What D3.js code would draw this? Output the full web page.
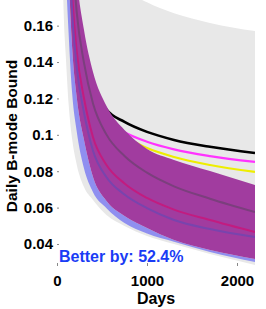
<!DOCTYPE html>
<html>
<head>
<meta charset="utf-8">
<script src="https://d3js.org/d3.v7.min.js"></script>
<style>
  html, body { margin: 0; padding: 0; background: #fff; overflow: hidden; }
  svg { display: block; }
  text { font-family: "Liberation Sans", Arial, sans-serif; font-weight: bold; }
</style>
</head>
<body>
<svg width="266" height="309"></svg>
<script>
// days sampled along every curve
var days = [50, 75, 100, 130, 170, 220, 300, 400, 550, 750, 1000, 1300, 1700, 2200];

// bands
var grayLo = [0.220, 0.1658, 0.1411, 0.1164, 0.0971, 0.0834, 0.0713, 0.0642, 0.0559, 0.0499, 0.0444, 0.0400, 0.0345, 0.0285];
var grayHi = [0.342, 0.302, 0.278, 0.259, 0.242, 0.228, 0.213, 0.201, 0.190, 0.180, 0.1728, 0.1668, 0.1615, 0.1570];
var blueLo = [0.330, 0.238, 0.189, 0.1548, 0.1219, 0.1015, 0.0815, 0.0685, 0.0597, 0.0515, 0.0457, 0.0412, 0.0356, 0.0301];
var purpLo = [0.406, 0.293, 0.233, 0.189, 0.1466, 0.1202, 0.0971, 0.0768, 0.0636, 0.0554, 0.0488, 0.0422, 0.0367, 0.0318];
var purpHi = [0.527, 0.397, 0.325, 0.271, 0.224, 0.187, 0.1576, 0.1345, 0.1158, 0.1026, 0.0922, 0.0862, 0.0801, 0.0724];

// lines
var blackLine  = [0.45, 0.34, 0.28, 0.235, 0.195, 0.165, 0.142, 0.127, 0.1139, 0.1071, 0.1016, 0.0972, 0.0934, 0.0900];
var magentaLine = [0.43, 0.32, 0.26, 0.215, 0.175, 0.140, 0.1242, 0.1159, 0.108, 0.1014, 0.0962, 0.0920, 0.0883, 0.0851];
var yellowLine = [0.42, 0.31, 0.25, 0.205, 0.16, 0.1381, 0.121, 0.112, 0.104, 0.0989, 0.0927, 0.0878, 0.0834, 0.0796];
var darkLine   = [0.491, 0.366, 0.297, 0.246, 0.2008, 0.1670, 0.1395, 0.1172, 0.1001, 0.0884, 0.0792, 0.0717, 0.0649, 0.0576];
var redLine    = [0.452, 0.3325, 0.268, 0.2202, 0.1760, 0.1456, 0.1201, 0.0987, 0.0834, 0.0733, 0.0653, 0.0589, 0.0532, 0.0466];
var violetLine = [0.436, 0.319, 0.256, 0.2095, 0.1660, 0.1369, 0.1122, 0.0912, 0.0767, 0.0672, 0.0597, 0.0532, 0.0482, 0.0438];

var yTicks = [0.04, 0.06, 0.08, 0.1, 0.12, 0.14, 0.16];
var yTickLabels = ["0.04", "0.06", "0.08", "0.1", "0.12", "0.14", "0.16"];
var xTicks = [0, 1000, 2000];
var xTickLabels = ["0", "1000", "2000"];
var betterBy = "Better by: 52.4%";

var svg = d3.select("svg");
var xScale = d3.scaleLinear().domain([0, 2200]).range([57, 255]);
var yScale = d3.scaleLinear().domain([0.0279, 0.1741]).range([266, 0]);

svg.append("clipPath").attr("id", "plotclip")
  .append("rect").attr("x", 57).attr("y", 0).attr("width", 198).attr("height", 266);

var plot = svg.append("g").attr("clip-path", "url(#plotclip)");

var band = function (lo, hi) {
  return d3.area()
    .x(function (d, i) { return xScale(days[i]); })
    .y0(function (d, i) { return yScale(lo[i]); })
    .y1(function (d, i) { return yScale(hi[i]); })
    .curve(d3.curveMonotoneX);
};
var line = d3.line()
  .x(function (d, i) { return xScale(days[i]); })
  .y(function (d) { return yScale(d); })
  .curve(d3.curveMonotoneX);

// gray band + lines that sit under the coloured bands
plot.append("path").datum(days).attr("d", band(grayLo, grayHi)).attr("fill", "#e8e8e8");
plot.append("path").datum(blackLine).attr("d", line).attr("fill", "none").attr("stroke", "#000").attr("stroke-width", 2.6);
plot.append("path").datum(magentaLine).attr("d", line).attr("fill", "none").attr("stroke", "#ff33ff").attr("stroke-width", 2.2);
plot.append("path").datum(yellowLine).attr("d", line).attr("fill", "none").attr("stroke", "#eeee00").attr("stroke-width", 2.2);

// blue and purple bands
plot.append("path").datum(days).attr("d", band(blueLo, purpLo)).attr("fill", "#8f8ff0");
plot.append("path").datum(days).attr("d", band(purpLo, purpHi)).attr("fill", "#a13c9f");

plot.append("path").datum(darkLine).attr("d", line).attr("fill", "none").attr("stroke", "#7b3f7d").attr("stroke-width", 2);
plot.append("path").datum(redLine).attr("d", line).attr("fill", "none").attr("stroke", "#c21c80").attr("stroke-width", 2);
plot.append("path").datum(violetLine).attr("d", line).attr("fill", "none").attr("stroke", "#7944ad").attr("stroke-width", 2);

// Y axis
var yAxis = svg.append("g")
  .attr("transform", "translate(57,0)")
  .call(d3.axisLeft(yScale).tickValues(yTicks).tickSize(-2).tickPadding(4)
    .tickFormat(function (d, i) { return yTickLabels[i]; }));
yAxis.select(".domain").remove();
yAxis.selectAll("line").attr("stroke", "#888");
yAxis.selectAll("text").style("font-size", "15px").attr("fill", "#000");

// X axis
var xAxis = svg.append("g")
  .attr("transform", "translate(0,266)")
  .call(d3.axisBottom(xScale).tickValues(xTicks).tickSize(-3).tickPadding(9)
    .tickFormat(function (d, i) { return xTickLabels[i]; }));
xAxis.select(".domain").remove();
xAxis.selectAll("line").attr("stroke", "#888");
xAxis.selectAll("text").style("font-size", "15px").attr("fill", "#000");

// labels
svg.append("text")
  .attr("transform", "translate(17,136) rotate(-90)")
  .style("text-anchor", "middle").style("font-size", "15.5px")
  .text("Daily B-mode Bound");
svg.append("text")
  .attr("x", 156).attr("y", 304)
  .style("text-anchor", "middle").style("font-size", "16px")
  .text("Days");
svg.append("text")
  .attr("x", 59).attr("y", 262)
  .style("font-size", "16px").attr("fill", "#1a3cf5")
  .text(betterBy);
</script>
</body>
</html>
